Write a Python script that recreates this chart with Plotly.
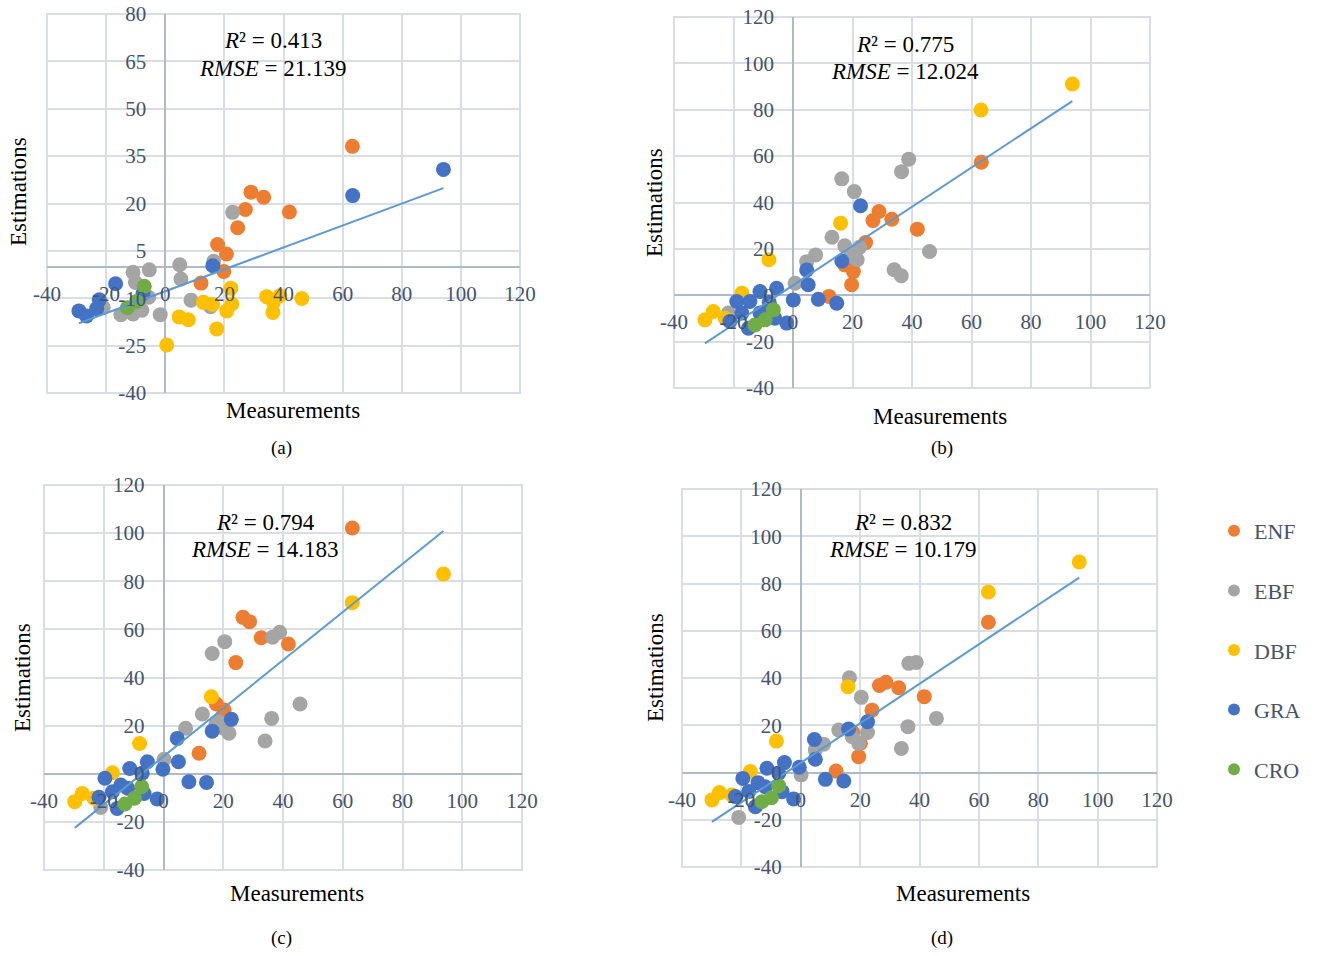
import plotly.graph_objects as go

# ---------------- data ----------------
CATEGORIES = ["ENF", "EBF", "DBF", "GRA", "CRO"]
COLORS = ["#ED7D31", "#A5A5A5", "#FFC000", "#4472C4", "#70AD47"]
PANELS = ["a", "b", "c", "d"]

X_TICKS = [-40, -20, 0, 20, 40, 60, 80, 100, 120]
Y_TICKS_A = [-40, -25, -10, 5, 20, 35, 50, 65, 80]
Y_TICKS_BCD = [-40, -20, 0, 20, 40, 60, 80, 100, 120]

R2 = [0.413, 0.775, 0.794, 0.832]
RMSE = [21.139, 12.024, 14.183, 10.179]
TREND_SLOPE = [0.347, 0.846, 1.000, 0.836]
TREND_INTERCEPT = [-7.8, 4.3, 7.2, 4.1]

# panel (a)
ENF_a_x = [63.3, 29.0, 33.3, 27.1, 42.0, 24.5, 17.7, 20.7, 19.8, 12.1]
ENF_a_y = [38.1, 23.6, 22.0, 18.1, 17.3, 12.3, 7.0, 4.0, -1.5, -5.2]
EBF_a_x = [22.8, 16.4, 4.9, 5.3, 8.7, 15.3, -1.7, -5.4, -10.9, -10.1, -5.6, -15.0, -10.9, -7.9, -21.0]
EBF_a_y = [17.2, 1.7, 0.6, -3.9, -10.6, -12.7, -15.2, -1.0, -1.8, -5.0, -9.7, -15.2, -15.0, -13.8, -12.9]
DBF_a_x = [0.5, 4.7, 7.8, 17.4, 12.9, 16.0, 20.8, 22.2, 22.5, 34.3, 38.8, 36.6, 36.4, 46.2]
DBF_a_y = [-24.8, -15.9, -16.8, -19.7, -11.3, -12.0, -14.0, -6.8, -11.8, -9.5, -9.2, -11.3, -14.5, -10.1]
GRA_a_x = [94.1, 63.4, 16.1, -16.8, -22.3, -23.2, -29.2, -26.6, -7.5]
GRA_a_y = [30.8, 22.5, 0.3, -5.4, -10.5, -13.3, -14.0, -15.6, -8.5]
CRO_a_x = [-7.1, -12.8, -9.7]
CRO_a_y = [-6.2, -13.0, -11.0]

# panel (b)
ENF_b_x = [63.3, 28.9, 33.2, 26.9, 41.8, 24.4, 17.4, 20.3, 19.7, 12.1]
ENF_b_y = [57.4, 36.1, 32.8, 32.2, 28.5, 22.7, 13.1, 10.2, 4.5, -0.5]
EBF_b_x = [38.9, 36.5, 16.4, 20.6, 13.1, 17.4, 22.4, 7.6, 4.6, 21.6, 19.5, 45.9, 34.0, 36.4, 0.7, -21.7]
EBF_b_y = [58.7, 53.3, 50.2, 44.7, 25.0, 21.3, 20.7, 17.4, 14.5, 15.3, 17.0, 18.9, 11.0, 8.4, 5.2, -7.7]
DBF_b_x = [93.9, 63.2, 16.0, -8.1, -17.2, -26.8, -29.6, -22.8]
DBF_b_y = [91.1, 79.9, 31.1, 15.3, 0.9, -7.0, -10.6, -9.9]
GRA_b_x = [22.7, 16.4, 4.6, 5.1, 8.5, 14.7, 0.1, -5.5, -11.1, -18.9, -14.5, -17.2, -2.1, -21.2, -15.0, -11.1, -6.1, -8.0]
GRA_b_y = [38.6, 14.8, 10.9, 4.5, -1.7, -3.4, -2.0, 3.0, 1.6, -2.7, -2.7, -7.7, -12.0, -11.3, -14.2, -7.7, -9.9, -3.0]
CRO_b_x = [-6.6, -9.4, -12.8]
CRO_b_y = [-6.3, -10.6, -12.8]

# panel (c)
ENF_c_x = [63.2, 26.6, 28.8, 32.7, 41.8, 24.2, 17.7, 20.3, 11.9, 19.8]
ENF_c_y = [102.1, 65.0, 63.2, 56.5, 53.9, 46.2, 29.0, 26.5, 8.5, 24.0]
EBF_c_x = [38.9, 36.5, 16.3, 20.5, 13.0, 7.4, 45.7, 36.2, 34.0, 21.9, 18.6, 20.0, 0.2, -21.0, 17.5]
EBF_c_y = [58.8, 56.7, 50.0, 54.9, 24.8, 18.9, 29.0, 23.0, 13.6, 16.8, 21.6, 19.0, 6.0, -14.0, 20.5]
DBF_c_x = [93.7, 63.2, 16.0, -8.0, -17.1, -27.2, -29.7, -23.3]
DBF_c_y = [83.0, 71.1, 32.0, 12.6, 0.4, -8.2, -11.6, -10.2]
GRA_c_x = [22.7, 16.3, 4.6, 5.0, -0.2, -5.4, 8.5, 14.4, -11.3, -19.6, -14.3, -7.1, -2.1, -21.6, -17.1, -15.5, -6.5, -12.0]
GRA_c_y = [22.6, 17.7, 14.7, 5.0, 1.9, 5.0, -3.3, -3.6, 2.2, -1.9, -4.7, 0.2, -10.5, -9.8, -7.5, -14.4, -8.2, -6.0]
CRO_c_x = [-7.3, -9.7, -12.9]
CRO_c_y = [-5.4, -10.2, -12.6]

# panel (d)
ENF_d_x = [63.2, 26.5, 28.7, 33.0, 41.6, 24.0, 20.1, 19.5, 11.9, 17.5]
ENF_d_y = [63.6, 36.8, 38.2, 35.9, 32.1, 26.4, 12.4, 6.7, 0.6, 17.0]
EBF_d_x = [38.9, 36.4, 16.4, 20.4, 12.8, 7.7, 4.9, 45.7, 36.1, 33.9, 22.5, 17.3, 19.5, 0.1, -20.9]
EBF_d_y = [46.6, 46.2, 40.1, 31.8, 18.0, 12.0, 9.5, 22.9, 19.4, 10.2, 16.9, 15.2, 12.3, -1.0, -19.0]
DBF_d_x = [93.8, 63.2, 15.9, -8.2, -17.0, -27.4, -29.9, -23.2]
DBF_d_y = [89.1, 76.4, 36.3, 13.3, 0.4, -8.5, -11.6, -9.5]
GRA_d_x = [22.5, 16.1, 4.6, 4.9, -0.5, -5.5, 8.3, 14.5, -11.4, -19.5, -14.4, -7.4, -2.4, -22.0, -17.5, -15.3, -6.3, -12.0]
GRA_d_y = [21.5, 18.4, 14.0, 5.6, 2.2, 4.2, -2.9, -3.6, 1.8, -2.5, -4.3, -0.3, -11.2, -10.2, -8.0, -14.5, -8.1, -6.0]
CRO_d_x = [-7.4, -9.9, -13.1]
CRO_d_y = [-5.6, -10.7, -12.4]

SERIES = {
    "a": [(ENF_a_x, ENF_a_y), (EBF_a_x, EBF_a_y), (DBF_a_x, DBF_a_y), (GRA_a_x, GRA_a_y), (CRO_a_x, CRO_a_y)],
    "b": [(ENF_b_x, ENF_b_y), (EBF_b_x, EBF_b_y), (DBF_b_x, DBF_b_y), (GRA_b_x, GRA_b_y), (CRO_b_x, CRO_b_y)],
    "c": [(ENF_c_x, ENF_c_y), (EBF_c_x, EBF_c_y), (DBF_c_x, DBF_c_y), (GRA_c_x, GRA_c_y), (CRO_c_x, CRO_c_y)],
    "d": [(ENF_d_x, ENF_d_y), (EBF_d_x, EBF_d_y), (DBF_d_x, DBF_d_y), (GRA_d_x, GRA_d_y), (CRO_d_x, CRO_d_y)],
}

# ---------------- layout geometry (pixels in the 1319 x 956 window) ----------------
W, H = 1319, 956
# left, right, top, bottom of each plot area (window pixels)
BOXES = [(47, 520, 14, 393), (674, 1150, 17, 388), (44, 522, 485, 870), (682, 1157, 489, 867)]
Y_RANGES = [(-40, 80), (-40, 120), (-40, 120), (-40, 120)]
X_RANGE = (-40, 120)


def fx(px):
    return px / W


def fy(py):
    return 1 - py / H


SERIF = "Liberation Serif, Times New Roman, serif"
TICK_COLOR = "#44546A"
GRID_COLOR = "#D9DEE6"
AXIS_COLOR = "#AEBACC"

fig = go.Figure()
layout = dict(
    width=W, height=H,
    margin=dict(l=0, r=0, t=0, b=0, pad=0, autoexpand=False),
    paper_bgcolor="white", plot_bgcolor="white",
    showlegend=True,
)

annotations = []
shapes = []
for i, p in enumerate(PANELS):
    n = "" if i == 0 else str(i + 1)
    xa, ya = "x" + n, "y" + n
    l, r, t, b = BOXES[i]
    y0, y1 = Y_RANGES[i]
    xdom = [fx(l), fx(r)]
    ydom = [fy(b), fy(t)]
    x_zero_frac = xdom[0] + (0 - X_RANGE[0]) / (X_RANGE[1] - X_RANGE[0]) * (xdom[1] - xdom[0])
    y_zero_frac = ydom[0] + (0 - y0) / (y1 - y0) * (ydom[1] - ydom[0])
    yticks = Y_TICKS_A if p == "a" else Y_TICKS_BCD

    layout["xaxis" + n] = dict(
        domain=xdom, range=list(X_RANGE), anchor="free", position=y_zero_frac,
        tickvals=X_TICKS, ticktext=[str(v) for v in X_TICKS], tickangle=0,
        showgrid=True, gridcolor=GRID_COLOR, gridwidth=2,
        zeroline=True, zerolinecolor=AXIS_COLOR, zerolinewidth=1.5,
        showline=False, ticks="", ticklabelstandoff=12, ticklabeloverflow="allow",
        tickfont=dict(family=SERIF, size=21, color=TICK_COLOR),
    )
    layout["yaxis" + n] = dict(
        domain=ydom, range=[y0, y1], anchor="free", position=x_zero_frac,
        tickvals=yticks, ticktext=[str(v) for v in yticks],
        showgrid=True, gridcolor=GRID_COLOR, gridwidth=2,
        zeroline=True, zerolinecolor=AXIS_COLOR, zerolinewidth=1.5,
        showline=False, ticks="", ticklabelstandoff=19, ticklabeloverflow="allow",
        tickfont=dict(family=SERIF, size=21, color=TICK_COLOR),
    )
    # outer frame of the plot area (the edge gridlines)
    shapes.append(dict(
        type="rect", xref=f"{xa} domain", yref=f"{ya} domain",
        x0=0, x1=1, y0=0, y1=1, layer="below",
        line=dict(color=GRID_COLOR, width=2), fillcolor="rgba(0,0,0,0)",
    ))

    all_x = []
    for k, (cat, col) in enumerate(zip(CATEGORIES, COLORS)):
        sx, sy = SERIES[p][k]
        all_x += sx
        fig.add_trace(go.Scatter(
            x=sx, y=sy, mode="markers", name=cat, legendgroup=cat,
            showlegend=(i == 0), xaxis=xa, yaxis=ya,
            marker=dict(color=col, size=15, line=dict(width=0)),
        ))
    # linear trend line over the data range
    tx = [min(all_x), max(all_x)]
    ty = [TREND_SLOPE[i] * v + TREND_INTERCEPT[i] for v in tx]
    fig.add_trace(go.Scatter(
        x=tx, y=ty, mode="lines", showlegend=False, xaxis=xa, yaxis=ya,
        line=dict(color="#5B9BD5", width=2),
    ))

# ---------------- text: statistics, axis titles, captions (window pixels) ----------------
STAT_POS = [(273, 40, 68), (905, 45, 72), (265, 522, 549), (903, 522, 549)]
MEAS_POS = [(293, 410), (940, 416), (297, 893), (963, 893)]
EST_POS = [(19, 192), (655, 203), (22, 678), (655, 668)]
CAP_POS = [(281, 448), (942, 448), (281, 938), (942, 938)]

for i, p in enumerate(PANELS):
    sx, sy1, sy2 = STAT_POS[i]
    annotations.append(dict(
        x=fx(sx), y=fy(sy1), xref="paper", yref="paper", showarrow=False,
        text=f"<i>R</i>² = {R2[i]:.3f}", font=dict(family=SERIF, size=23, color="black"),
        xanchor="center", yanchor="middle"))
    annotations.append(dict(
        x=fx(sx), y=fy(sy2), xref="paper", yref="paper", showarrow=False,
        text=f"<i>RMSE</i> = {RMSE[i]:.3f}", font=dict(family=SERIF, size=23, color="black"),
        xanchor="center", yanchor="middle"))
    mx, my = MEAS_POS[i]
    annotations.append(dict(
        x=fx(mx), y=fy(my), xref="paper", yref="paper", showarrow=False,
        text="Measurements", font=dict(family=SERIF, size=23, color="black"),
        xanchor="center", yanchor="middle"))
    ex, ey = EST_POS[i]
    annotations.append(dict(
        x=fx(ex), y=fy(ey), xref="paper", yref="paper", showarrow=False,
        text="Estimations", textangle=-90, font=dict(family=SERIF, size=23, color="black"),
        xanchor="center", yanchor="middle"))
    cx, cy = CAP_POS[i]
    annotations.append(dict(
        x=fx(cx), y=fy(cy), xref="paper", yref="paper", showarrow=False,
        text=f"({p})", font=dict(family=SERIF, size=19, color="black"),
        xanchor="center", yanchor="middle"))

layout["annotations"] = annotations
layout["shapes"] = shapes
layout["legend"] = dict(
    x=fx(1214), y=fy(510), xanchor="left", yanchor="top",
    font=dict(family=SERIF, size=22, color=TICK_COLOR),
    itemsizing="constant", tracegroupgap=28, bgcolor="rgba(0,0,0,0)",
)
fig.update_layout(**layout)
fig.write_html(
    "out.html",
    config={"displayModeBar": False},
    post_script="document.body.style.margin='0';document.body.style.overflow='hidden';",
)
